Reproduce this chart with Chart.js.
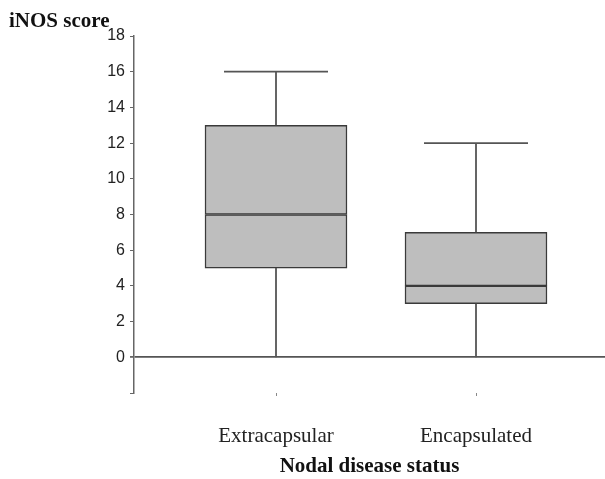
<!DOCTYPE html>
<html>
<head>
<meta charset="utf-8">
<script src="https://cdn.jsdelivr.net/npm/chart.js@4.4.0/dist/chart.umd.min.js"></script>
<style>
  html, body { margin: 0; padding: 0; background: #fff; }
  #wrap { width: 605px; height: 479px; }
</style>
</head>
<body>
<div id="wrap"><canvas id="myChart"></canvas></div>
<script>
// box plot values
const categories = ['Extracapsular', 'Encapsulated']
const positions = [1, 2]
const whiskerLow = [0, 0]
const q1 = [5, 3]
const median = [8, 4]
const q3 = [13, 7]
const whiskerHigh = [16, 12]
const yTicks = [-2, 0, 2, 4, 6, 8, 10, 12, 14, 16, 18]

const capHalf = 0.26
const serif = '"Liberation Serif", "Times New Roman", serif'
const sans = '"Liberation Sans", Arial, sans-serif'

const lowerBox = positions.map((x, i) => ({ x: x, y: [q1[i], median[i]] }))
const upperBox = positions.map((x, i) => ({ x: x, y: [median[i], q3[i]] }))

// whiskers + caps, separated by null points
const whiskers = []
positions.forEach((x, i) => {
  whiskers.push({ x: x, y: whiskerLow[i] }, { x: x, y: q1[i] }, { x: x, y: null })
  whiskers.push({ x: x, y: q3[i] }, { x: x, y: whiskerHigh[i] }, { x: x, y: null })
  whiskers.push({ x: x - capHalf, y: whiskerHigh[i] }, { x: x + capHalf, y: whiskerHigh[i] }, { x: x, y: null })
})

const boxStyle = {
  backgroundColor: '#bebebe',
  borderColor: '#3a3a3a',
  borderWidth: 1.5,
  borderSkipped: false,
  barThickness: 142,
  grouped: false
}

const yLabelPlugin = {
  id: 'yLabel',
  afterDraw(chart) {
    const c = chart.ctx
    c.save()
    c.font = 'bold 21px ' + serif
    c.fillStyle = '#111'
    c.textBaseline = 'alphabetic'
    c.fillText('iNOS score', 9, 27)
    c.restore()
  }
}

const config = {
  type: 'bar',
  data: {
    datasets: [
      Object.assign({ data: lowerBox }, boxStyle),
      Object.assign({ data: upperBox }, boxStyle),
      {
        type: 'line',
        data: whiskers,
        borderColor: '#555',
        borderWidth: 1.8,
        pointRadius: 0,
        spanGaps: false,
        order: -1
      }
    ]
  },
  plugins: [yLabelPlugin],
  options: {
    responsive: true,
    maintainAspectRatio: false,
    animation: false,
    layout: { padding: { top: 36, right: 0, left: 0, bottom: 0 } },
    plugins: { legend: { display: false }, tooltip: { enabled: false } },
    scales: {
      x: {
        type: 'linear',
        offset: false,
        min: 0.29,
        max: 2.645,
        afterBuildTicks: s => { s.ticks = positions.map(v => ({ value: v })) },
        afterFit: s => { s.height = 86 },
        border: { display: false },
        grid: { offset: false, drawOnChartArea: false, tickLength: 3, tickColor: '#888', tickWidth: 1 },
        ticks: {
          padding: 28,
          color: '#222',
          font: { family: serif, size: 21 },
          maxRotation: 0,
          callback: v => categories[positions.indexOf(v)]
        },
        title: {
          display: true,
          text: 'Nodal disease status',
          color: '#111',
          font: { family: serif, size: 21, weight: 'bold' },
          padding: { top: 4, bottom: 0 }
        }
      },
      y: {
        min: -2,
        max: 18,
        afterBuildTicks: s => { s.ticks = yTicks.map(v => ({ value: v })) },
        afterFit: s => { s.width = 134 },
        border: { display: true, color: '#666', width: 1.5 },
        grid: {
          drawOnChartArea: true,
          tickLength: 4,
          tickColor: '#666',
          lineWidth: ctx => ctx.tick && ctx.tick.value === 0 ? 1.8 : 1,
          color: ctx => ctx.tick && ctx.tick.value === 0 ? '#555' : 'rgba(0,0,0,0)'
        },
        ticks: {
          padding: 5,
          color: '#222',
          font: { family: sans, size: 16 },
          callback: v => v === -2 ? '' : v
        }
      }
    }
  }
}

const myChart = new Chart(document.getElementById('myChart'), config)
</script>
</body>
</html>
